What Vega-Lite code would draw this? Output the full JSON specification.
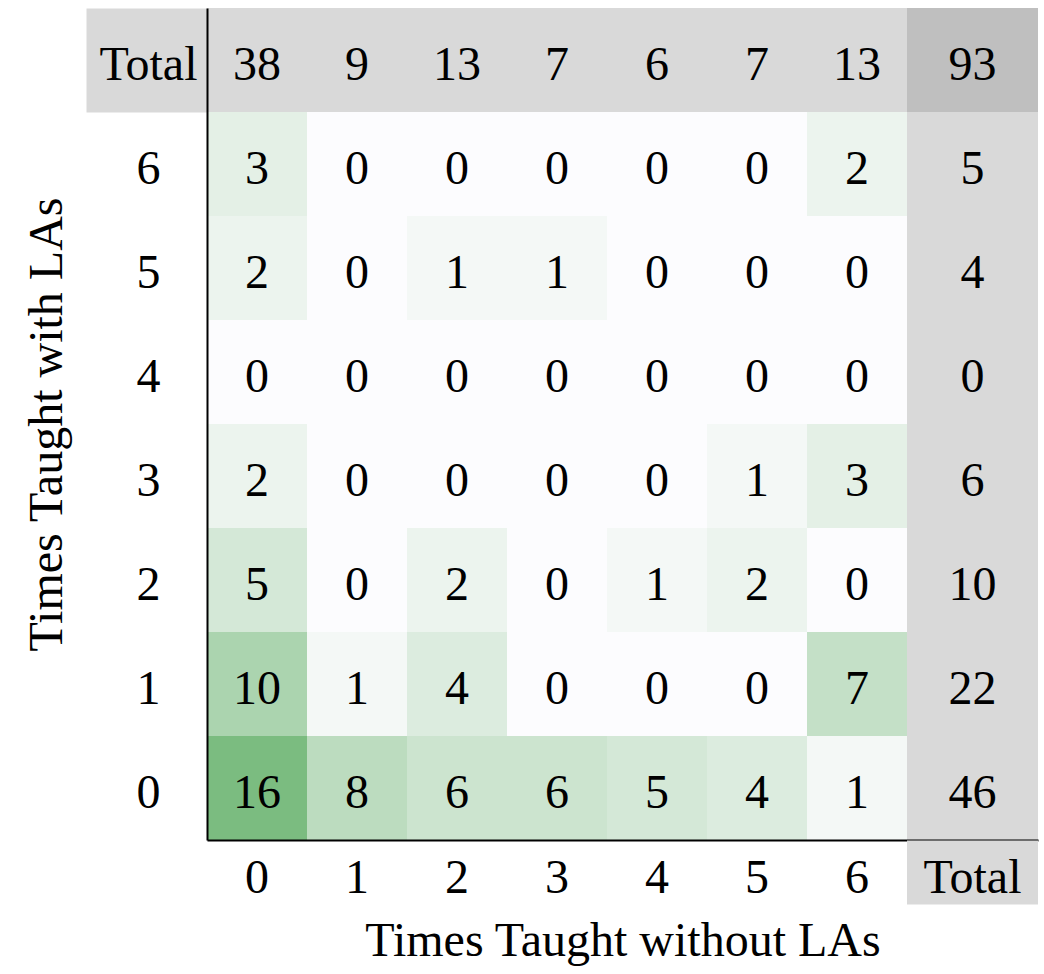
{
  "$schema": "https://vega.github.io/schema/vega-lite/v6.json",
  "width": 831,
  "height": 832,
  "autosize": {"type": "none"},
  "padding": {"left": 207, "top": 8, "right": 6, "bottom": 134},
  "background": "white",
  "config": {
    "font": "Liberation Serif",
    "view": {"stroke": null},
    "axis": {
      "labelFont": "Liberation Serif",
      "titleFont": "Liberation Serif",
      "labelFontSize": 48,
      "titleFontSize": 48,
      "titleFontWeight": "normal",
      "labelColor": "#000000",
      "titleColor": "#000000",
      "domainColor": "#000000",
      "domainWidth": 2,
      "grid": false,
      "zindex": 1,
      "labelAngle": 0,
      "labelOverlap": false
    }
  },
  "datasets": {
    "cells": [
      {"with_LAs": "6", "without_LAs": "0", "count": 3},
      {"with_LAs": "6", "without_LAs": "1", "count": 0},
      {"with_LAs": "6", "without_LAs": "2", "count": 0},
      {"with_LAs": "6", "without_LAs": "3", "count": 0},
      {"with_LAs": "6", "without_LAs": "4", "count": 0},
      {"with_LAs": "6", "without_LAs": "5", "count": 0},
      {"with_LAs": "6", "without_LAs": "6", "count": 2},
      {"with_LAs": "5", "without_LAs": "0", "count": 2},
      {"with_LAs": "5", "without_LAs": "1", "count": 0},
      {"with_LAs": "5", "without_LAs": "2", "count": 1},
      {"with_LAs": "5", "without_LAs": "3", "count": 1},
      {"with_LAs": "5", "without_LAs": "4", "count": 0},
      {"with_LAs": "5", "without_LAs": "5", "count": 0},
      {"with_LAs": "5", "without_LAs": "6", "count": 0},
      {"with_LAs": "4", "without_LAs": "0", "count": 0},
      {"with_LAs": "4", "without_LAs": "1", "count": 0},
      {"with_LAs": "4", "without_LAs": "2", "count": 0},
      {"with_LAs": "4", "without_LAs": "3", "count": 0},
      {"with_LAs": "4", "without_LAs": "4", "count": 0},
      {"with_LAs": "4", "without_LAs": "5", "count": 0},
      {"with_LAs": "4", "without_LAs": "6", "count": 0},
      {"with_LAs": "3", "without_LAs": "0", "count": 2},
      {"with_LAs": "3", "without_LAs": "1", "count": 0},
      {"with_LAs": "3", "without_LAs": "2", "count": 0},
      {"with_LAs": "3", "without_LAs": "3", "count": 0},
      {"with_LAs": "3", "without_LAs": "4", "count": 0},
      {"with_LAs": "3", "without_LAs": "5", "count": 1},
      {"with_LAs": "3", "without_LAs": "6", "count": 3},
      {"with_LAs": "2", "without_LAs": "0", "count": 5},
      {"with_LAs": "2", "without_LAs": "1", "count": 0},
      {"with_LAs": "2", "without_LAs": "2", "count": 2},
      {"with_LAs": "2", "without_LAs": "3", "count": 0},
      {"with_LAs": "2", "without_LAs": "4", "count": 1},
      {"with_LAs": "2", "without_LAs": "5", "count": 2},
      {"with_LAs": "2", "without_LAs": "6", "count": 0},
      {"with_LAs": "1", "without_LAs": "0", "count": 10},
      {"with_LAs": "1", "without_LAs": "1", "count": 1},
      {"with_LAs": "1", "without_LAs": "2", "count": 4},
      {"with_LAs": "1", "without_LAs": "3", "count": 0},
      {"with_LAs": "1", "without_LAs": "4", "count": 0},
      {"with_LAs": "1", "without_LAs": "5", "count": 0},
      {"with_LAs": "1", "without_LAs": "6", "count": 7},
      {"with_LAs": "0", "without_LAs": "0", "count": 16},
      {"with_LAs": "0", "without_LAs": "1", "count": 8},
      {"with_LAs": "0", "without_LAs": "2", "count": 6},
      {"with_LAs": "0", "without_LAs": "3", "count": 6},
      {"with_LAs": "0", "without_LAs": "4", "count": 5},
      {"with_LAs": "0", "without_LAs": "5", "count": 4},
      {"with_LAs": "0", "without_LAs": "6", "count": 1},
      {"with_LAs": "Total", "without_LAs": "0", "count": 38},
      {"with_LAs": "Total", "without_LAs": "1", "count": 9},
      {"with_LAs": "Total", "without_LAs": "2", "count": 13},
      {"with_LAs": "Total", "without_LAs": "3", "count": 7},
      {"with_LAs": "Total", "without_LAs": "4", "count": 6},
      {"with_LAs": "Total", "without_LAs": "5", "count": 7},
      {"with_LAs": "Total", "without_LAs": "6", "count": 13}
    ],
    "row_totals": [
      {"with_LAs": "Total", "without_LAs": "Total", "count": 93},
      {"with_LAs": "6", "without_LAs": "Total", "count": 5},
      {"with_LAs": "5", "without_LAs": "Total", "count": 4},
      {"with_LAs": "4", "without_LAs": "Total", "count": 0},
      {"with_LAs": "3", "without_LAs": "Total", "count": 6},
      {"with_LAs": "2", "without_LAs": "Total", "count": 10},
      {"with_LAs": "1", "without_LAs": "Total", "count": 22},
      {"with_LAs": "0", "without_LAs": "Total", "count": 46}
    ]
  },
  "encoding": {
    "y": {
      "field": "with_LAs",
      "type": "ordinal",
      "sort": ["Total", "6", "5", "4", "3", "2", "1", "0"],
      "scale": {"paddingInner": 0, "paddingOuter": 0},
      "axis": {
        "orient": "left",
        "zindex": 1,
        "title": "Times Taught with LAs",
        "titlePadding": -37,
        "domain": true,
        "ticks": true,
        "tickSize": 121,
        "tickWidth": 104,
        "tickCap": "butt",
        "tickColor": {"condition": {"test": "datum.value === 'Total'", "value": "#d9d9d9"}, "value": "transparent"},
        "labelAlign": "center",
        "labelBaseline": "alphabetic",
        "labelPadding": -62,
        "labelOffset": 20
      }
    }
  },
  "layer": [
    {
      "data": {"name": "cells"},
      "encoding": {
        "x": {
          "field": "without_LAs",
          "type": "ordinal",
          "sort": ["0", "1", "2", "3", "4", "5", "6"],
          "scale": {"paddingInner": 0, "paddingOuter": 0.6549, "align": 0},
          "axis": {
            "orient": "bottom",
            "zindex": 1,
            "title": "Times Taught without LAs",
            "titlePadding": 15,
            "domain": true,
            "ticks": false,
            "labelAlign": "center",
            "labelBaseline": "alphabetic",
            "labelPadding": 52
          }
        }
      },
      "layer": [
        {
          "transform": [{"filter": "datum.with_LAs !== 'Total'"}],
          "mark": {"type": "rect"},
          "encoding": {
            "color": {
              "field": "count",
              "type": "quantitative",
              "scale": {"domain": [0, 16], "range": ["#fcfcfe", "#7bbc80"], "interpolate": "rgb"},
              "legend": null
            }
          }
        },
        {
          "transform": [{"filter": "datum.with_LAs === 'Total'"}],
          "mark": {"type": "rect", "color": "#d9d9d9"}
        },
        {
          "mark": {"type": "text", "font": "Liberation Serif", "fontSize": 48, "color": "#000000", "align": "center", "baseline": "alphabetic", "dy": 20},
          "encoding": {"text": {"field": "count", "type": "quantitative"}}
        }
      ]
    },
    {
      "data": {"name": "row_totals"},
      "encoding": {
        "x": {
          "field": "without_LAs",
          "type": "nominal",
          "scale": {"paddingInner": 0.62572, "paddingOuter": 1, "align": 1},
          "axis": {
            "orient": "bottom",
            "zindex": 1,
            "title": null,
            "domain": false,
            "ticks": true,
            "tickSize": 64,
            "tickWidth": 131,
            "tickCap": "butt",
            "tickColor": "#d9d9d9",
            "labelAlign": "center",
            "labelBaseline": "alphabetic",
            "labelPadding": -12
          }
        }
      },
      "layer": [
        {
          "mark": {"type": "rect"},
          "encoding": {
            "color": {"condition": {"test": "datum.with_LAs === 'Total'", "value": "#bfbfbf"}, "value": "#d9d9d9"}
          }
        },
        {
          "mark": {"type": "text", "font": "Liberation Serif", "fontSize": 48, "color": "#000000", "align": "center", "baseline": "alphabetic", "dy": 20},
          "encoding": {"text": {"field": "count", "type": "quantitative"}}
        }
      ]
    }
  ],
  "resolve": {"scale": {"x": "independent"}, "axis": {"x": "independent"}}
}
